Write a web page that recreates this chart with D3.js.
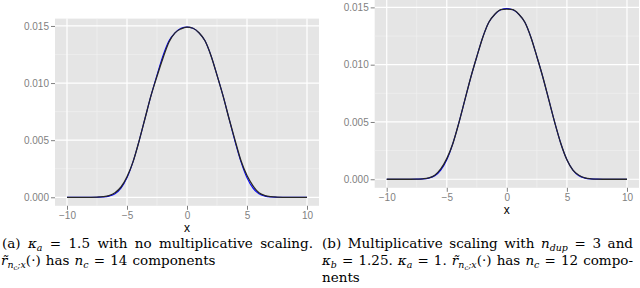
<!DOCTYPE html>
<html><head><meta charset="utf-8">
<script src="https://cdn.jsdelivr.net/npm/d3@7"></script>
<style>body{margin:0;background:#fff;}svg{display:block;}</style>
</head><body>
<svg id="c" width="640" height="288"></svg>
<script>
// ---------- data ----------
const xs = [-10,-9.5,-9,-8.5,-8,-7.5,-7,-6.5,-6,-5.5,-5,-4.5,-4,-3.5,-3,-2.5,-2,-1.5,-1,-0.5,0,
            0.5,1,1.5,2,2.5,3,3.5,4,4.5,5,5.5,6,6.5,7,7.5,8,8.5,9,9.5,10];
const trueDensity = [0,0,0,0,0,0.00001,0.00003,0.0001,0.0003,0.0008,0.0017,0.0031,0.0049,0.0069,0.0089,0.0107,0.0124,0.0137,0.0144,0.0148,0.0149,
                     0.0148,0.0144,0.0137,0.0124,0.0107,0.0089,0.0069,0.0049,0.0031,0.0017,0.0008,0.0003,0.0001,0.00003,0.00001,0,0,0,0,0];
const approxA = [0,0,0,0,0,0.00001,0.00005,0.00015,0.0004,0.0009,0.0018,0.0031,0.0049,0.0069,0.0089,0.0106,0.0122,0.0136,0.0144,0.01475,0.0149,
                 0.0148,0.0144,0.0137,0.0124,0.0107,0.0089,0.0069,0.0050,0.0032,0.0019,0.0010,0.0004,0.00015,0.00005,0.00001,0,0,0,0,0];
const approxB = [0,0,0,0,0,0.00001,0.00004,0.00012,0.00035,0.0009,0.0018,0.0031,0.0049,0.0069,0.0089,0.0107,0.0124,0.0137,0.0144,0.0148,0.01485,
                 0.0148,0.0144,0.0137,0.0124,0.0107,0.0089,0.0069,0.0049,0.0031,0.0017,0.0008,0.00035,0.00012,0.00004,0.00001,0,0,0,0,0];
const xTicks = [-10,-5,0,5,10];
const xTickLabels = ["\u221210","\u22125","0","5","10"];
const xMinor = [-7.5,-2.5,2.5,7.5];
const yTicks = [0,0.005,0.010,0.015];
const yTickLabels = ["0.000","0.005","0.010","0.015"];
const yMinor = [0.0025,0.0075,0.0125];

// ---------- drawing ----------
const SANS = "'Liberation Sans', Arial, Helvetica, sans-serif";
const svg = d3.select("#c");
const panels = [
  {left:55, right:319, top:18.6, bottom:205.8, approx:approxA},
  {left:374.7, right:639, top:0, bottom:187.8, approx:approxB}
];
const xDom = [-11, 11];
const yDom = [-0.000745, 0.015645];

panels.forEach(p => {
  const g = svg.append("g");
  const x = d3.scaleLinear().domain(xDom).range([p.left, p.right]);
  const y = d3.scaleLinear().domain(yDom).range([p.bottom, p.top]);
  g.append("rect").attr("x",p.left).attr("y",p.top)
    .attr("width",p.right-p.left).attr("height",p.bottom-p.top).attr("fill","#E5E5E5");
  g.selectAll(".vmin").data(xMinor).join("line")
    .attr("x1",d=>x(d)).attr("x2",d=>x(d)).attr("y1",p.top).attr("y2",p.bottom)
    .attr("stroke","#F2F2F2").attr("stroke-width",0.6);
  g.selectAll(".hmin").data(yMinor).join("line")
    .attr("y1",d=>y(d)).attr("y2",d=>y(d)).attr("x1",p.left).attr("x2",p.right)
    .attr("stroke","#F2F2F2").attr("stroke-width",0.6);
  g.selectAll(".vmaj").data(xTicks).join("line")
    .attr("x1",d=>x(d)).attr("x2",d=>x(d)).attr("y1",p.top).attr("y2",p.bottom)
    .attr("stroke","#FFFFFF").attr("stroke-width",1.2);
  g.selectAll(".hmaj").data(yTicks).join("line")
    .attr("y1",d=>y(d)).attr("y2",d=>y(d)).attr("x1",p.left).attr("x2",p.right)
    .attr("stroke","#FFFFFF").attr("stroke-width",1.2);
  const xa = d3.axisBottom(x).tickValues(xTicks).tickSize(4).tickPadding(2)
    .tickFormat((d,i)=>xTickLabels[i]);
  const ya = d3.axisLeft(y).tickValues(yTicks).tickSize(4).tickPadding(2)
    .tickFormat((d,i)=>yTickLabels[i]);
  const gx = g.append("g").attr("transform",`translate(0,${p.bottom})`).call(xa);
  const gy = g.append("g").attr("transform",`translate(${p.left},0)`).call(ya);
  [gx,gy].forEach(a=>{
    a.select(".domain").remove();
    a.selectAll("line").attr("stroke","#7F7F7F");
    a.selectAll("text").attr("fill","#7F7F7F").attr("font-family",SANS).attr("font-size","10px");
  });
  g.append("text").attr("x",x(0)).attr("y",p.bottom+26.5).attr("text-anchor","middle")
    .attr("font-family",SANS).attr("font-size","12px").attr("fill","#000").text("x");
  const line = d3.line().x((d,i)=>x(xs[i])).y(d=>y(d)).curve(d3.curveMonotoneX);
  g.append("path").attr("d",line(trueDensity)).attr("fill","none").attr("stroke","#0000FF").attr("stroke-width",1.1);
  g.append("path").attr("d",line(p.approx)).attr("fill","none").attr("stroke","#262626").attr("stroke-width",1.3);
});

// ---------- captions ----------
const CF = "'DejaVu Serif', 'Liberation Serif', serif";
const FS = 13.5;
function w(...pieces){ return pieces; }
const R = t=>({t}), I = t=>({t,it:true}), S = t=>({t,it:true,sub:true});
const rt = [I("r\u0303"), S("n"), {t:"c",it:true,sub2:true}, {t:";x",it:true,sub:true}, R("(\u00B7)")];
const captions = [
  {x0:2, x1:313, y:248, words:[w(R("(a)")), w(I("\u03BA"),S("a")), w(R("=")), w(R("1.5")), w(R("with")), w(R("no")), w(R("multiplicative")), w(R("scaling."))]},
  {x0:1, x1:null, y:265, words:[rt, w(R("has")), w(I("n"),S("c")), w(R("=")), w(R("14")), w(R("components"))]},
  {x0:322, x1:633, y:248, words:[w(R("(b)")), w(R("Multiplicative")), w(R("scaling")), w(R("with")), w(I("n"),S("dup")), w(R("=")), w(R("3")), w(R("and"))]},
  {x0:322, x1:633, y:265, words:[w(I("\u03BA"),S("b")), w(R("=")), w(R("1.25.")), w(I("\u03BA"),S("a")), w(R("=")), w(R("1.")), rt, w(R("has")), w(I("n"),S("c")), w(R("=")), w(R("12")), w(R("compo-"))]},
  {x0:322, x1:null, y:282, words:[w(R("nents"))]}
];
captions.forEach(c=>{
  const els = c.words.map(word=>{
    const t = svg.append("text").attr("y",c.y).attr("font-family",CF).attr("font-size",FS+"px").attr("fill","#000");
    let shift = 0;
    word.forEach(pc=>{
      const target = pc.sub2 ? 5 : (pc.sub ? 3 : 0);
      const ts = t.append("tspan").text(pc.t).attr("dy", target - shift);
      shift = target;
      if(pc.it) ts.attr("font-style","italic");
      if(pc.sub) ts.attr("font-size",(FS*0.7)+"px");
      if(pc.sub2) ts.attr("font-size",(FS*0.5)+"px");
    });
    return t;
  });
  const widths = els.map(e=>e.node().getComputedTextLength());
  const total = d3.sum(widths);
  let gap = FS*0.38;
  if(c.x1 !== null && els.length>1) gap = Math.max(2, (c.x1 - c.x0 - total)/(els.length-1));
  let xp = c.x0;
  els.forEach((e,i)=>{ e.attr("x",xp); xp += widths[i] + gap; });
});
</script>
</body></html>
